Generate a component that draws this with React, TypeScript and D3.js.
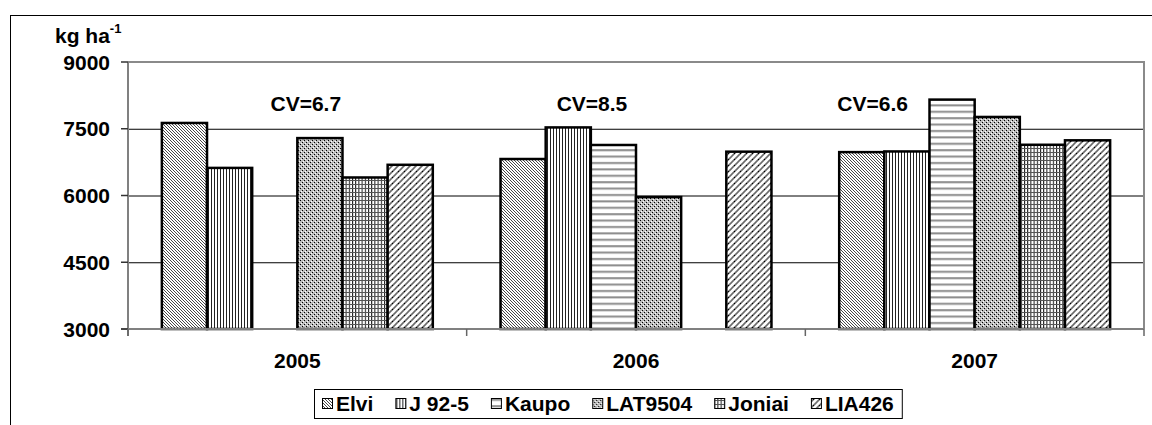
import React, { useEffect, useRef } from "react";
import * as d3 from "d3";

// ---- data ----
const years = ["2005", "2006", "2007"];
const series = ["Elvi", "J 92-5", "Kaupo", "LAT9504", "Joniai", "LIA426"];
const elvi = [7630, 6820, 6975];
const j925 = [6620, 7530, 6990];
const kaupo = [null, 7135, 8155];
const lat9504 = [7290, 5965, 7765];
const joniai = [6405, null, 7140];
const lia426 = [6690, 6985, 7240];
const yTicks = [3000, 4500, 6000, 7500, 9000];
const cvLabels = ["CV=6.7", "CV=8.5", "CV=6.6"];
const yUnit = "kg ha";
const yUnitSup = "-1";

const seriesValues: (number | null)[][] = [elvi, j925, kaupo, lat9504, joniai, lia426];

// ---- layout ----
const W = 1152;
const H = 425;
const plot = { left: 128, right: 1144, top: 62, bottom: 329 };
const cvOffsets = [8.5, -44, -102];
const FONT = "'Liberation Sans', Arial, Helvetica, sans-serif";

export default function App() {
  const ref = useRef<SVGSVGElement>(null);

  useEffect(() => {
    const svg = d3.select(ref.current);
    svg.selectAll("*").remove();

    const defs = svg.append("defs");
    const pid = (i: number) => `pat${i}`;

    // Elvi: dense downward diagonal
    {
      const p = defs.append("pattern").attr("id", pid(0)).attr("patternUnits", "userSpaceOnUse").attr("width", 3).attr("height", 3);
      p.append("rect").attr("width", 3).attr("height", 3).attr("fill", "#fff");
      p.append("path").attr("d", "M0,0 L3,3 M-1,2 L1,4 M2,-1 L4,1").attr("stroke", "#333").attr("stroke-width", 0.9);
    }
    // J 92-5: narrow vertical
    {
      const p = defs.append("pattern").attr("id", pid(1)).attr("patternUnits", "userSpaceOnUse").attr("width", 3).attr("height", 3);
      p.append("rect").attr("width", 3).attr("height", 3).attr("fill", "#fff");
      p.append("rect").attr("x", 1).attr("width", 1).attr("height", 3).attr("fill", "#222");
    }
    // Kaupo: horizontal
    {
      const p = defs.append("pattern").attr("id", pid(2)).attr("patternUnits", "userSpaceOnUse").attr("width", 6).attr("height", 6.4);
      p.append("rect").attr("width", 6).attr("height", 6.4).attr("fill", "#fff");
      p.append("rect").attr("y", 2).attr("width", 6).attr("height", 2).attr("fill", "#8c8c8c");
    }
    // LAT9504: small confetti/checker
    {
      const p = defs.append("pattern").attr("id", pid(3)).attr("patternUnits", "userSpaceOnUse").attr("width", 4).attr("height", 4);
      p.append("rect").attr("width", 4).attr("height", 4).attr("fill", "#bdbdbd");
      p.append("rect").attr("x", 0).attr("y", 0).attr("width", 1).attr("height", 1).attr("fill", "#000");
      p.append("rect").attr("x", 2).attr("y", 2).attr("width", 1).attr("height", 1).attr("fill", "#000");
      p.append("rect").attr("x", 1).attr("y", 3).attr("width", 1).attr("height", 1).attr("fill", "#fff");
      p.append("rect").attr("x", 3).attr("y", 1).attr("width", 1).attr("height", 1).attr("fill", "#fff");
    }
    // Joniai: small grid
    {
      const p = defs.append("pattern").attr("id", pid(4)).attr("patternUnits", "userSpaceOnUse").attr("width", 3.2).attr("height", 4);
      p.append("rect").attr("width", 3.2).attr("height", 4).attr("fill", "#fff");
      p.append("rect").attr("x", 0).attr("width", 1).attr("height", 4).attr("fill", "#111");
      p.append("rect").attr("y", 0).attr("width", 3.2).attr("height", 1).attr("fill", "#555");
    }
    // LIA426: dashed upward diagonal
    {
      const p = defs.append("pattern").attr("id", pid(5)).attr("patternUnits", "userSpaceOnUse").attr("width", 6).attr("height", 6);
      p.append("rect").attr("width", 6).attr("height", 6).attr("fill", "#fff");
      p.append("path").attr("d", "M0,6 L6,0 M-1,1 L1,-1 M5,7 L7,5").attr("stroke", "#6a6a6a").attr("stroke-width", 1.6);
      p.append("rect").attr("x", 2).attr("y", 3).attr("width", 1).attr("height", 1).attr("fill", "#000");
    }

    // outer chart border
    svg.append("rect").attr("x", 10.5).attr("y", 15.5).attr("width", 1300).attr("height", 600)
      .attr("fill", "#fff").attr("stroke", "#000").attr("stroke-width", 1);

    const y = d3.scaleLinear().domain([3000, 9000]).range([plot.bottom, plot.top]);
    const x0 = d3.scaleBand<string>().domain(years).range([plot.left, plot.right]).padding(0);
    const x1 = d3.scaleBand<string>().domain(series).range([0, x0.bandwidth()]).paddingInner(0).paddingOuter(0.75);

    // gridlines
    svg.append("g").selectAll("line").data(yTicks.filter((t) => t > 3000 && t < 9000)).join("line")
      .attr("x1", plot.left).attr("x2", plot.right)
      .attr("y1", (d) => y(d) + 0.5).attr("y2", (d) => y(d) + 0.5)
      .attr("stroke", "#000").attr("stroke-width", 1);

    // plot border top/right (gray)
    svg.append("path")
      .attr("d", `M${plot.left},${plot.top} H${plot.right} V${plot.bottom}`)
      .attr("fill", "none").attr("stroke", "#8a8a8a").attr("stroke-width", 2);

    // bars
    const g = svg.append("g");
    years.forEach((yr, yi) => {
      series.forEach((s, si) => {
        const v = seriesValues[si][yi];
        if (v == null) return;
        g.append("rect")
          .attr("x", (x0(yr) ?? 0) + (x1(s) ?? 0))
          .attr("y", y(v))
          .attr("width", x1.bandwidth())
          .attr("height", y(3000) - y(v))
          .attr("fill", `url(#${pid(si)})`)
          .attr("stroke", "#000")
          .attr("stroke-width", 2.5);
      });
    });

    // axes lines
    svg.append("line").attr("x1", plot.left).attr("x2", plot.left).attr("y1", plot.top).attr("y2", plot.bottom + 7)
      .attr("stroke", "#808080").attr("stroke-width", 2);
    svg.append("line").attr("x1", plot.left - 7).attr("x2", plot.right).attr("y1", plot.bottom).attr("y2", plot.bottom)
      .attr("stroke", "#808080").attr("stroke-width", 2);

    // y ticks + labels
    const yAxis = svg.append("g");
    yAxis.selectAll("line").data(yTicks).join("line")
      .attr("x1", plot.left - 7).attr("x2", plot.left)
      .attr("y1", (d) => y(d)).attr("y2", (d) => y(d))
      .attr("stroke", "#333").attr("stroke-width", 1.5);
    yAxis.selectAll("text").data(yTicks).join("text")
      .attr("x", 110).attr("y", (d) => y(d) + 7.5)
      .attr("text-anchor", "end")
      .attr("font-family", FONT).attr("font-weight", "bold").attr("font-size", 21)
      .text((d) => String(d));

    // x ticks at category boundaries
    const bounds = [...years.map((yr) => x0(yr) ?? 0), plot.right];
    svg.append("g").selectAll("line").data(bounds).join("line")
      .attr("x1", (d) => d).attr("x2", (d) => d)
      .attr("y1", plot.bottom).attr("y2", plot.bottom + 7)
      .attr("stroke", "#666").attr("stroke-width", 1.5);

    // x labels
    svg.append("g").selectAll("text").data(years).join("text")
      .attr("x", (d) => (x0(d) ?? 0) + x0.bandwidth() / 2)
      .attr("y", 368)
      .attr("text-anchor", "middle")
      .attr("font-family", FONT).attr("font-weight", "bold").attr("font-size", 21)
      .text((d) => d);

    // CV labels
    svg.append("g").selectAll("text").data(cvLabels).join("text")
      .attr("x", (_d, i) => (x0(years[i]) ?? 0) + x0.bandwidth() / 2 + cvOffsets[i])
      .attr("y", 110.5)
      .attr("text-anchor", "middle")
      .attr("font-family", FONT).attr("font-weight", "bold").attr("font-size", 21)
      .text((d) => d);

    // y unit label
    const unit = svg.append("text").attr("x", 55).attr("y", 43)
      .attr("font-family", FONT).attr("font-weight", "bold").attr("font-size", 21);
    unit.append("tspan").text(yUnit);
    unit.append("tspan").attr("font-size", 13).attr("dy", -10).text(yUnitSup);

    // legend
    const leg = svg.append("g");
    const box = leg.append("rect").attr("fill", "#fff").attr("stroke", "#000").attr("stroke-width", 1);
    const legTop = 389;
    const legH = 29;
    const gap = 22;
    let cx = 0;
    const pad = 8;
    const sw = 11;
    const items = leg.append("g");
    series.forEach((s, i) => {
      const it = items.append("g").attr("transform", `translate(${cx},0)`);
      it.append("rect").attr("x", 0.5).attr("y", legTop + 9.5).attr("width", sw - 1).attr("height", sw - 1)
        .attr("fill", `url(#${pid(i)})`).attr("stroke", "#000").attr("stroke-width", 1);
      const t = it.append("text").attr("x", sw + 3).attr("y", legTop + 22)
        .attr("font-family", FONT).attr("font-weight", "bold").attr("font-size", 21).text(s);
      const tw = (t.node() as SVGTextElement).getComputedTextLength();
      cx += sw + 3 + tw + gap;
    });
    const contentW = cx - gap;
    const boxW = contentW + pad * 2;
    const boxX = 314;
    box.attr("x", boxX + 0.5).attr("y", legTop + 0.5).attr("width", boxW).attr("height", legH);
    items.attr("transform", `translate(${boxX + pad},0)`);
  }, []);

  return (
    <svg
      ref={ref}
      width={W}
      height={H}
      style={{ position: "absolute", left: 0, top: 0, background: "#fff" }}
    />
  );
}
